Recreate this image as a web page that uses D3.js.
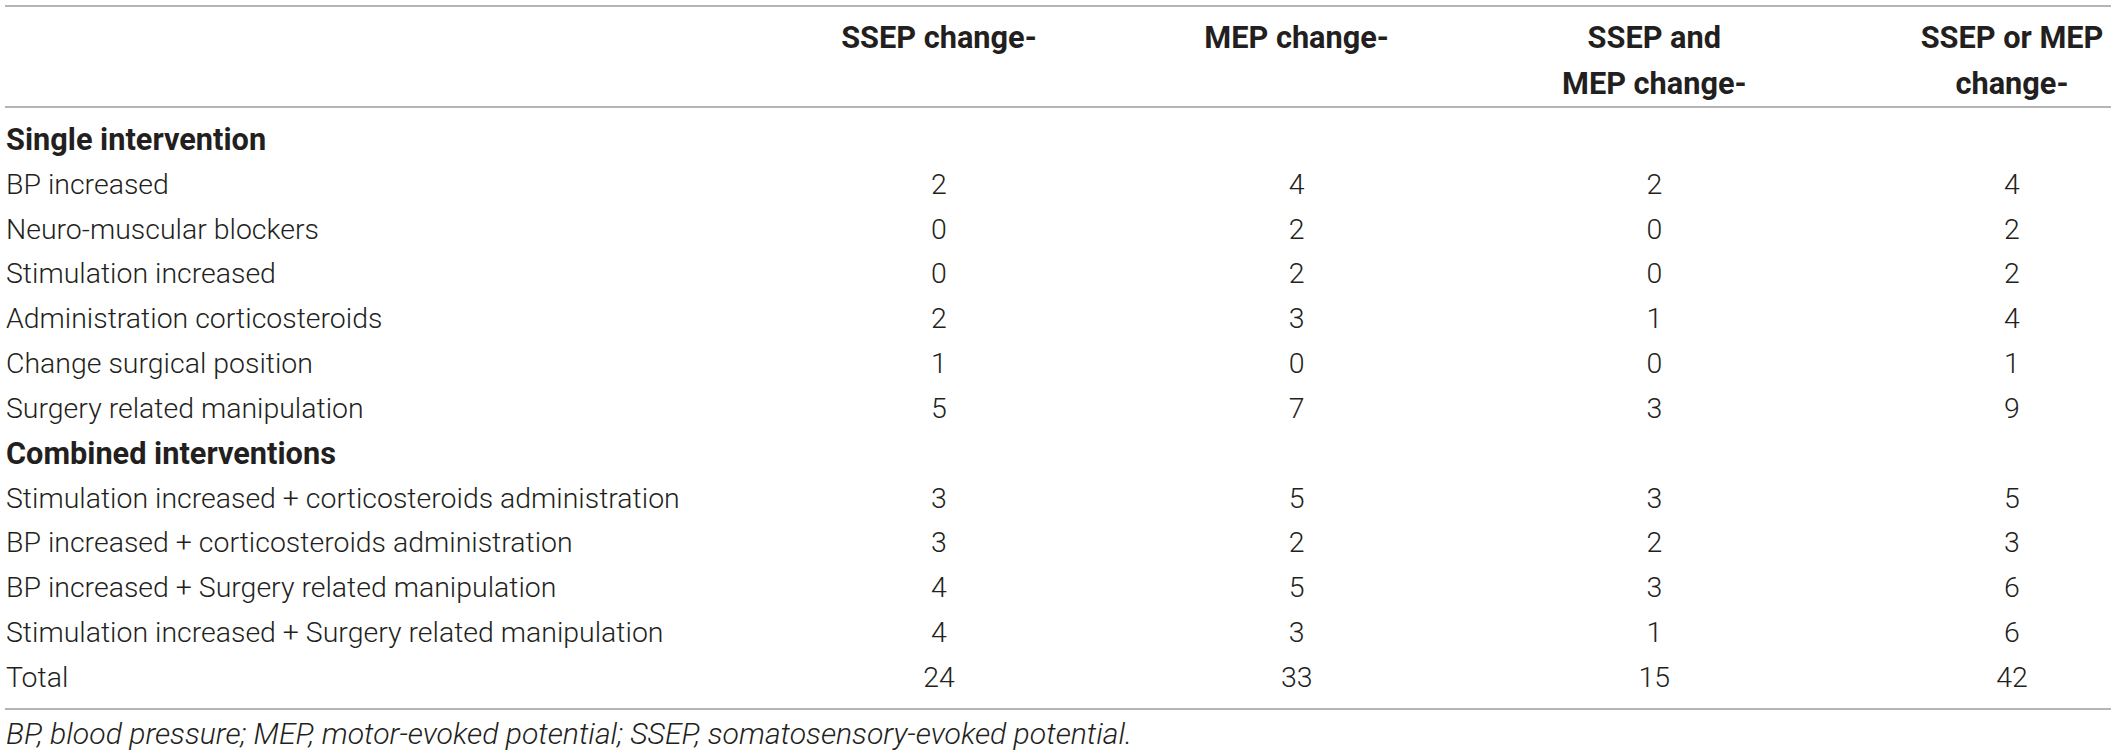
<!DOCTYPE html>
<html>
<head>
<meta charset="utf-8">
<script src="https://cdn.jsdelivr.net/npm/d3@7"></script>
<style>
  html, body { margin: 0; padding: 0; background: #fff; }
  svg { display: block; }
  .cell { font-family: Roboto, "Liberation Sans", sans-serif; font-weight: 300; fill: #231f20; }
  .bold { font-weight: 700; }
  .note { font-style: italic; }
  .rule { stroke: #9d9d9d; stroke-width: 1.6; }
</style>
</head>
<body>
<svg id="table"></svg>
<script>
// table content
const headerLines = [
    ["SSEP change-"],
    ["MEP change-"],
    ["SSEP and", "MEP change-"],
    ["SSEP or MEP", "change-"]
];

const rowLabels = [
    "Single intervention",
    "BP increased",
    "Neuro-muscular blockers",
    "Stimulation increased",
    "Administration corticosteroids",
    "Change surgical position",
    "Surgery related manipulation",
    "Combined interventions",
    "Stimulation increased + corticosteroids administration",
    "BP increased + corticosteroids administration",
    "BP increased + Surgery related manipulation",
    "Stimulation increased + Surgery related manipulation",
    "Total"
];

// section rows have no numbers (null)
const ssepChange   = [null, 2, 0, 0, 2, 1, 5, null, 3, 3, 4, 4, 24];
const mepChange    = [null, 4, 2, 2, 3, 0, 7, null, 5, 2, 5, 3, 33];
const bothChange   = [null, 2, 0, 0, 1, 0, 3, null, 3, 2, 3, 1, 15];
const eitherChange = [null, 4, 2, 2, 4, 1, 9, null, 5, 3, 6, 6, 42];

const footnote = "BP, blood pressure; MEP, motor-evoked potential; SSEP, somatosensory-evoked potential.";

const width = 2118, height = 755;
const columns = [ssepChange, mepChange, bothChange, eitherChange];

const svg = d3.select("#table")
    .attr("width", width)
    .attr("height", height);

// fit a font size so that a sample string spans the width it has in the source
function fitSize(cls, str, target) {
    const base = 28;
    const probe = svg.append("text").attr("class", cls)
        .style("font-size", base + "px")
        .text(str);
    const w = probe.node().getComputedTextLength();
    probe.remove();
    return w > 0 ? base * target / w : base;
}

const bodySize = fitSize("cell", rowLabels[8], 674);
const boldSize = fitSize("cell bold", rowLabels[7], 330);
const noteSize = fitSize("cell note", footnote, 1127);

const x = d3.scalePoint()
    .domain(d3.range(columns.length))
    .range([939, 2012]);

const y = d3.scalePoint()
    .domain(d3.range(rowLabels.length))
    .range([139, 677]);

const headerY = d3.scalePoint()
    .domain([0, 1])
    .range([37, 83]);

// horizontal rules
const rules = [6, 107, 709];
svg.selectAll(".rule")
    .data(rules)
    .enter()
    .append("line")
    .attr("class", "rule")
    .attr("x1", 5)
    .attr("x2", 2111)
    .attr("y1", d => d)
    .attr("y2", d => d);

// column headers
const heads = svg.selectAll(".head")
    .data(headerLines)
    .enter()
    .append("g")
    .attr("class", "head");

heads.selectAll("text")
    .data((d, i) => d.map((line, j) => ({ line, j, i })))
    .enter()
    .append("text")
    .attr("class", "cell bold")
    .style("font-size", boldSize + "px")
    .attr("text-anchor", "middle")
    .attr("x", d => x(d.i))
    .attr("y", d => headerY(d.j))
    .attr("dy", "0.35em")
    .text(d => d.line);

// row labels
svg.selectAll(".label")
    .data(rowLabels)
    .enter()
    .append("text")
    .attr("class", (d, i) => ssepChange[i] === null ? "cell bold label" : "cell label")
    .style("font-size", (d, i) => (ssepChange[i] === null ? boldSize : bodySize) + "px")
    .attr("x", 6)
    .attr("y", (d, i) => y(i))
    .attr("dy", "0.35em")
    .text(d => d);

// numbers
columns.forEach((col, ci) => {
    svg.selectAll(".val" + ci)
        .data(col.map((v, ri) => ({ v, ri })).filter(d => d.v !== null))
        .enter()
        .append("text")
        .attr("class", "cell val" + ci)
        .style("font-size", bodySize + "px")
        .attr("text-anchor", "middle")
        .attr("x", x(ci))
        .attr("y", d => y(d.ri))
        .attr("dy", "0.35em")
        .text(d => d.v);
});

// footnote
svg.append("text")
    .attr("class", "cell note")
    .style("font-size", noteSize + "px")
    .attr("x", 6)
    .attr("y", 733)
    .attr("dy", "0.35em")
    .text(footnote);
</script>
</body>
</html>
